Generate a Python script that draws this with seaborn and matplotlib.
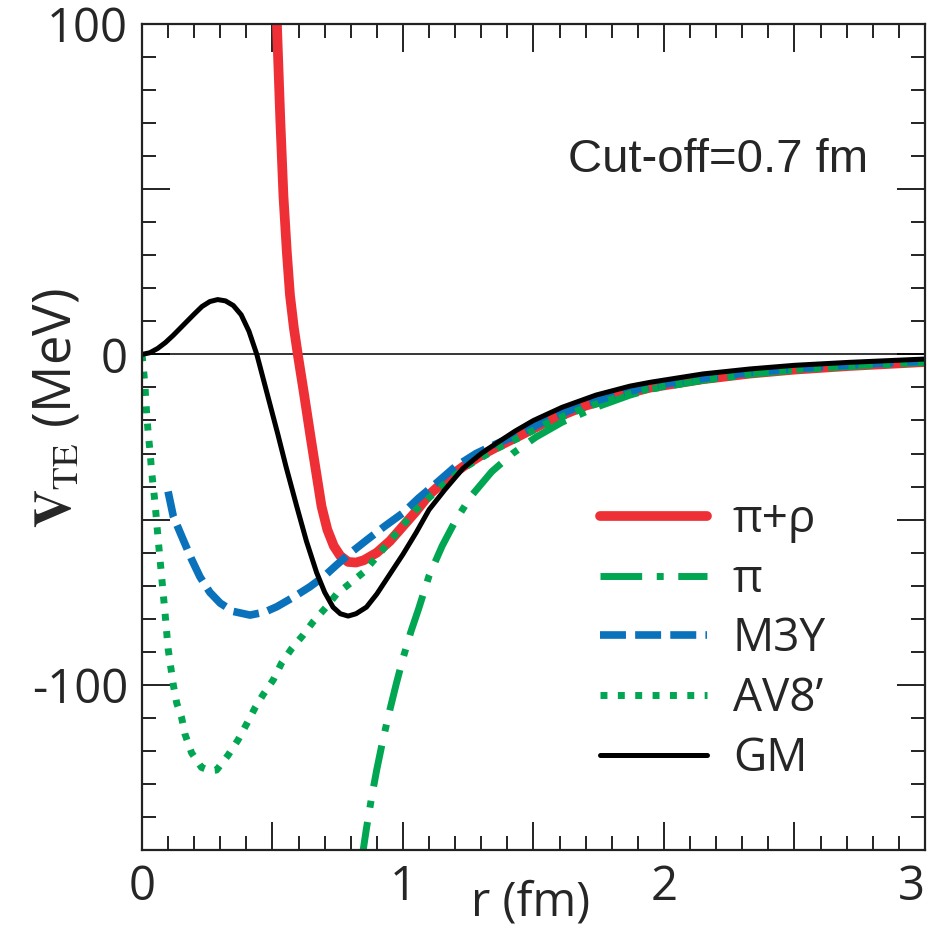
import numpy as np
import pandas as pd
import matplotlib
matplotlib.use("Agg")
import matplotlib.pyplot as plt
from matplotlib.ticker import MultipleLocator, FuncFormatter
import seaborn as sns

# curves: r in fm, V_TE in MeV
r_pirho = [0.505, 0.517, 0.53, 0.542, 0.555, 0.567, 0.582, 0.597, 0.62, 0.648, 0.668, 0.688,
           0.71, 0.735, 0.76, 0.79, 0.82, 0.85, 0.9, 0.95, 1.0, 1.05, 1.1, 1.17, 1.23, 1.3,
           1.36, 1.45, 1.56, 1.7, 1.85, 1.95, 2.15, 2.33, 2.5, 2.71, 3.0]
v_pirho = [128, 100, 71, 48, 31, 18, 8, 0, -11.5, -26, -36, -46,
           -53, -58, -61, -62.8, -63, -62.3, -60, -56.5, -52, -47.5, -42.5, -37.5, -34, -30.5,
           -28, -24.5, -20, -15.5, -12, -10, -7.5, -5.8, -4.6, -3.5, -2.3]

r_pi = [0.84, 0.86, 0.88, 0.90, 0.925, 0.95, 0.975, 1.0, 1.03, 1.06, 1.1, 1.15, 1.2, 1.26,
        1.34, 1.42, 1.51, 1.61, 1.74, 1.87, 1.95, 2.15, 2.33, 2.5, 2.71, 3.0]
v_pi = [-154, -143.5, -134, -125.5, -116, -107.5, -99.5, -92, -84, -77, -67, -58, -50.5, -43,
        -35.5, -30, -25, -20.5, -16, -12.3, -10.5, -7.8, -6, -4.7, -3.6, -2.4]

r_m3y = [0.10, 0.12, 0.152, 0.19, 0.222, 0.26, 0.3, 0.35, 0.414, 0.47, 0.516, 0.58, 0.644,
         0.7, 0.746, 0.8, 0.861, 0.93, 1.0, 1.06, 1.12, 1.2, 1.28, 1.36, 1.45, 1.56, 1.7,
         1.85, 1.95, 2.15, 2.33, 2.5, 2.71, 3.0]
v_m3y = [-41.5, -49, -55, -62, -67.3, -72, -75.3, -77.8, -78.9, -78, -76.4, -73.5, -70.3,
         -67, -63.7, -60, -56.2, -52, -48, -43.5, -39.5, -34, -30, -27, -24, -19.5, -15,
         -11.5, -9.6, -7.2, -5.5, -4.3, -3.2, -2.0]

r_av8 = [0, 0.004, 0.011, 0.018, 0.024, 0.031, 0.037, 0.05, 0.062, 0.075, 0.088, 0.1, 0.12,
         0.133, 0.152, 0.165, 0.19, 0.228, 0.26, 0.286, 0.33, 0.368, 0.40, 0.433, 0.464, 0.503,
         0.535, 0.574, 0.617, 0.655, 0.707, 0.746, 0.797, 0.848, 0.899, 0.976, 1.05, 1.14,
         1.23, 1.36, 1.45, 1.56, 1.7, 1.85, 1.95, 2.15, 2.33, 2.5, 2.71, 3.0]
v_av8 = [0, -3, -9, -18, -24, -29.5, -35.5, -45, -56, -67, -78, -89, -100,
         -105.5, -110, -115, -120.6, -125, -126, -125.8, -121.3, -116.7, -112, -107, -103, -98.5,
         -93.4, -89, -85, -81, -76.4, -72.5, -69.3, -66, -61.3, -54, -47, -40.5,
         -34.5, -28.5, -25, -20.5, -16, -12.3, -10.3, -7.8, -6, -4.7, -3.6, -2.4]

r_gm = [0, 0.03, 0.06, 0.09, 0.12, 0.16, 0.2, 0.23, 0.26, 0.29, 0.32, 0.35, 0.38, 0.41, 0.44,
        0.48, 0.52, 0.552, 0.593, 0.63, 0.669, 0.70, 0.732, 0.76, 0.79, 0.82, 0.86, 0.9, 0.95,
        1.0, 1.05, 1.1, 1.16, 1.23, 1.3, 1.36, 1.43, 1.5, 1.61, 1.74, 1.87, 1.95, 2.15, 2.33,
        2.5, 2.71, 3.0]
v_gm = [0, 0.5, 1.8, 3.6, 5.8, 9, 12.2, 14.5, 16, 16.6, 16.2, 14.8, 12, 7, 0,
        -12, -24, -34, -46, -56.5, -66, -72, -76.5, -78.5, -79.2, -78.5, -76.5, -72.5, -66.5,
        -60.5, -54, -47, -41, -34.5, -30, -26.8, -23.2, -20, -16, -12.3, -9.6, -8.4, -5.9, -4.4,
        -3.3, -2.4, -1.4]

labels = ["π+ρ", "π", "M3Y", "AV8’", "GM"]

sns.set_style("ticks")
plt.rcParams["font.family"] = ["Open Sans", "DejaVu Sans"]
plt.rcParams["mathtext.fontset"] = "stix"

fig = plt.figure(figsize=(9.31, 9.39), dpi=100)
ax = fig.add_axes([0.1525, 0.0948, 0.841, 0.8796])

ax.axhline(0, color="black", lw=1.1, zorder=1)

curves = [
    (r_pirho, v_pirho, "#EE3036", 7.0, "-"),
    (r_pi, v_pi, "#00A651", 5.0, (0, (6, 2.1, 1, 2.1))),
    (r_m3y, v_m3y, "#0A72BA", 5.5, (0, (3.4, 1.2))),
    (r_av8, v_av8, "#00A651", 5.0, (0, (1, 1.5))),
    (r_gm, v_gm, "black", 3.6, "-"),
]
for (xs, ys, col, lw, ls), lab in zip(curves, labels):
    d = pd.DataFrame({"r": xs, "V": ys})
    sns.lineplot(data=d, x="r", y="V", ax=ax, color=col, lw=lw, linestyle=ls,
                 label=lab, sort=False, estimator=None)

ax.set_xlim(0, 3)
ax.set_ylim(-150, 100)

ax.xaxis.set_major_locator(MultipleLocator(0.5))
ax.xaxis.set_minor_locator(MultipleLocator(0.1))
ax.yaxis.set_major_locator(MultipleLocator(50))
ax.yaxis.set_minor_locator(MultipleLocator(10))
ax.xaxis.set_major_formatter(FuncFormatter(lambda v, p: f"{v:.0f}" if abs(v - round(v)) < 1e-6 else ""))
ax.yaxis.set_major_formatter(FuncFormatter(lambda v, p: f"{v:.0f}" if abs(v) % 100 < 1e-6 else ""))

ax.tick_params(which="both", direction="in", top=True, right=True, width=1.4, color="#222222")
ax.tick_params(which="major", length=20, labelsize=34, pad=10)
ax.tick_params(which="minor", length=10)
for s in ax.spines.values():
    s.set_linewidth(1.6)
    s.set_color("#222222")

ax.set_xlabel("r (fm)", fontsize=34)
ax.xaxis.set_label_coords(0.496, -0.035)
ax.set_ylabel(r"$\mathbf{V}_{\mathrm{TE}}$ (MeV)", fontsize=38)
ax.yaxis.set_label_coords(-0.075, 0.535)

ax.text(1.632, 58.8, "Cut-off=0.7 fm", fontsize=34, family="Liberation Sans",
        ha="left", va="center")

ax.legend(loc="center left", bbox_to_anchor=(0.585, 0.255), frameon=False, fontsize=33,
          handlelength=2.33, handletextpad=0.57, labelspacing=0.3, borderpad=0,
          borderaxespad=0)

# keep the last x label inside the figure
fig.canvas.draw()
for t in ax.get_xticklabels():
    if t.get_text() == "3":
        t.set_horizontalalignment("right")

fig.savefig("out.png", dpi=100)
